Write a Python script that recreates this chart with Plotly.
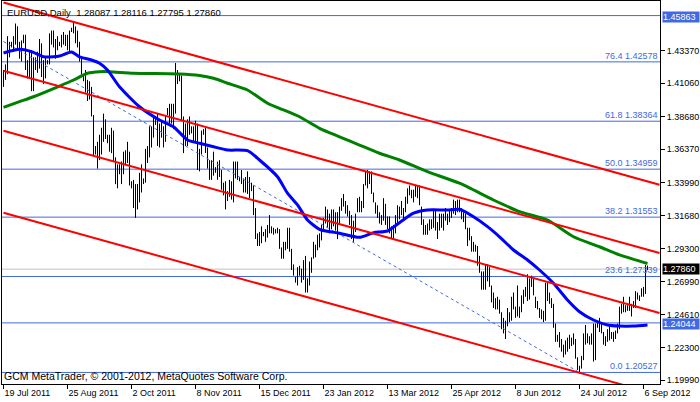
import plotly.graph_objects as go

# ---------------- data ----------------
# bar index 0 = 19 Jul 2011 (broker feed, Sunday bars in 2011), last bar = 10 Sep 2012
high_2011 = [1.4200,1.4240,1.4440,1.4400,
 1.4400,1.4440,1.4530,1.4510,1.4400,1.4410,
 1.4450,1.4450,1.4270,1.4330,1.4340,1.4290,
 1.4290,1.4330,1.4420,1.4390,1.4270,1.4290,
 1.4270,1.4460,1.4480,1.4480,1.4420,1.4440,
 1.4400,1.4450,1.4470,1.4450,1.4450,1.4480,
 1.4500,1.4540,1.4510,1.4480,1.4400,1.4290,
 1.4170,1.4200,1.4130,1.4120,1.4080,1.3880,
 1.3660,1.3690,1.3740,1.3790,1.3890,1.3850,
 1.3740,1.3740,1.3790,1.3770,1.3580,1.3530,
 1.3530,1.3550,1.3620,1.3630,1.3690,1.3620,
 1.3410,1.3420,1.3390,1.3390,1.3470,1.3530,
 1.3430,1.3640,1.3660,1.3800,1.3800,1.3870,
 1.3860,1.3890,1.3820,1.3840,1.3800,1.3880,
 1.3930,1.3960,1.3960,1.3960,1.4250,1.4200,
 1.4170,1.4160,1.3870,1.3820,1.3850,1.3870,
 1.3800,1.3800,1.3840,1.3820,1.3640,1.3770,
 1.3780,1.3790,1.3650,1.3560,1.3560,1.3620,
 1.3510,1.3550,1.3560,1.3490,1.3400,1.3410,
 1.3340,1.3420,1.3410,1.3550,1.3550,1.3550,
 1.3440,1.3490,1.3430,1.3440,1.3480,1.3440,
 1.3400,1.3380,1.3220,1.3040,1.3050,1.3090,
 1.3050,1.3070,1.3100,1.3170,1.3090,1.3080,
 1.3070,1.3080,1.3070,1.2940,1.2980]
low_2011 = [1.4080,1.4130,1.4170,1.4290,
 1.4360,1.4330,1.4380,1.4340,1.4280,1.4260,
 1.4390,1.4200,1.4140,1.4150,1.4050,1.4050,
 1.4200,1.4180,1.4210,1.4150,1.4100,1.4140,
 1.4240,1.4240,1.4380,1.4360,1.4280,1.4340,
 1.4370,1.4360,1.4380,1.4370,1.4340,1.4330,
 1.4470,1.4460,1.4390,1.4360,1.4260,1.4170,
 1.4120,1.4040,1.3980,1.3990,1.3870,1.3590,
 1.3600,1.3500,1.3560,1.3600,1.3690,1.3710,
 1.3680,1.3620,1.3610,1.3550,1.3390,1.3360,
 1.3460,1.3390,1.3460,1.3530,1.3540,1.3380,
 1.3360,1.3220,1.3150,1.3210,1.3260,1.3330,
 1.3390,1.3400,1.3540,1.3580,1.3650,1.3720,
 1.3810,1.3660,1.3650,1.3720,1.3650,1.3690,
 1.3880,1.3820,1.3820,1.3780,1.3890,1.4100,
 1.4120,1.3840,1.3610,1.3660,1.3660,1.3740,
 1.3750,1.3690,1.3680,1.3490,1.3480,1.3600,
 1.3740,1.3610,1.3500,1.3420,1.3420,1.3450,
 1.3470,1.3420,1.3440,1.3350,1.3310,1.3210,
 1.3270,1.3300,1.3280,1.3260,1.3430,1.3420,
 1.3410,1.3390,1.3330,1.3330,1.3320,1.3290,
 1.3340,1.3170,1.3000,1.2950,1.2950,1.2970,
 1.3020,1.2980,1.3010,1.3040,1.3040,1.3030,
 1.3040,1.3040,1.2930,1.2860,1.2860]
high_2012 = [1.2980,1.3080,1.3080,1.2930,1.2820,
 1.2730,
 1.2800,1.2810,1.2790,1.2850,1.2880,
 1.2720,1.2840,1.2870,1.2980,1.2960,
 1.3030,1.3040,1.3100,1.3150,1.3230,
 1.3210,1.3180,1.3210,1.3210,1.3190,
 1.3190,1.3230,1.3290,1.3320,1.3270,
 1.3240,1.3200,1.3170,1.3130,1.3180,
 1.3290,1.3300,1.3270,1.3390,1.3480,
 1.3490,1.3480,1.3480,1.3330,1.3260,
 1.3240,1.3190,1.3170,1.3290,1.3250,
 1.3160,1.3160,1.3090,1.3100,1.3170,
 1.3240,1.3230,1.3270,1.3220,1.3300,
 1.3360,1.3380,1.3350,1.3350,1.3380,
 1.3380,1.3380,1.3230,1.3140,1.3100,
 1.3110,1.3140,1.3140,1.3210,1.3200,
 1.3120,1.3180,1.3180,1.3180,1.3220,
 1.3180,1.3200,1.3220,1.3280,1.3270,
 1.3280,1.3280,1.3220,1.3190,1.3180,
 1.3080,1.3080,1.3020,1.2980,1.2960,
 1.2950,1.2880,1.2770,1.2770,1.2820,
 1.2820,1.2800,1.2670,1.2620,1.2580,
 1.2590,1.2570,1.2480,1.2440,1.2420,
 1.2510,1.2480,1.2590,1.2620,1.2520,
 1.2670,1.2520,1.2600,1.2640,1.2660,
 1.2750,1.2720,1.2740,1.2720,1.2590,
 1.2560,1.2510,1.2500,1.2490,1.2690,
 1.2690,1.2620,1.2580,1.2540,1.2400,
 1.2320,1.2340,1.2290,1.2250,1.2280,
 1.2300,1.2320,1.2300,1.2330,1.2290,
 1.2160,1.2100,1.2170,1.2330,1.2390,
 1.2330,1.2310,1.2330,1.2400,1.2400,
 1.2410,1.2440,1.2400,1.2340,1.2310,
 1.2360,1.2380,1.2340,1.2340,1.2350,
 1.2400,1.2520,1.2540,1.2590,1.2530,
 1.2530,1.2590,1.2540,1.2560,1.2630,
 1.2620,1.2600,1.2650,1.2660,1.2815,
 1.28116]
low_2012 = [1.2920,1.2930,1.2910,1.2780,1.2740,
 1.2690,
 1.2670,1.2740,1.2690,1.2710,1.2620,
 1.2620,1.2670,1.2760,1.2860,1.2870,
 1.2920,1.2940,1.2990,1.3070,1.3110,
 1.3080,1.3040,1.3070,1.3090,1.3060,
 1.3000,1.3100,1.3200,1.3230,1.3180,
 1.3160,1.3100,1.3000,1.2980,1.3050,
 1.3190,1.3190,1.3190,1.3220,1.3380,
 1.3360,1.3390,1.3320,1.3260,1.3180,
 1.3150,1.3110,1.3100,1.3130,1.3100,
 1.3070,1.3040,1.3000,1.3000,1.3040,
 1.3110,1.3140,1.3170,1.3140,1.3190,
 1.3250,1.3310,1.3290,1.3260,1.3300,
 1.3290,1.3240,1.3100,1.3030,1.3030,
 1.3030,1.3060,1.3070,1.3080,1.3060,
 1.3000,1.3060,1.3080,1.3060,1.3130,
 1.3100,1.3120,1.3150,1.3180,1.3170,
 1.3190,1.3190,1.3140,1.3120,1.3070,
 1.2950,1.2990,1.2910,1.2910,1.2910,
 1.2810,1.2760,1.2640,1.2640,1.2640,
 1.2700,1.2660,1.2550,1.2510,1.2500,
 1.2500,1.2470,1.2360,1.2330,1.2290,
 1.2380,1.2410,1.2420,1.2500,1.2440,
 1.2450,1.2440,1.2480,1.2540,1.2590,
 1.2560,1.2570,1.2660,1.2600,1.2510,
 1.2500,1.2440,1.2430,1.2410,1.2420,
 1.2560,1.2540,1.2510,1.2370,1.2270,
 1.2270,1.2230,1.2200,1.2160,1.2180,
 1.2200,1.2220,1.2240,1.2250,1.2150,
 1.2070,1.2045,1.2080,1.2140,1.2250,
 1.2260,1.2250,1.2250,1.2130,1.2140,
 1.2370,1.2340,1.2330,1.2250,1.2240,
 1.2270,1.2280,1.2290,1.2270,1.2290,
 1.2330,1.2360,1.2470,1.2480,1.2480,
 1.2490,1.2490,1.2450,1.2510,1.2510,
 1.2570,1.2560,1.2590,1.2590,1.2610,
 1.27795]

# moving averages (bar index, price)
ma_fast_idx = [0,8,14,20,25,28,34,38,44,48,52,58,68,78,85,92,98,105,112,122,128,137,142,147,152,158,168,178,185,192,198,205,212,222,228,235,242,248,255,262,268,275,282,288,295,302,308,315,322]
ma_fast_val = [1.4321,1.4347,1.4330,1.4294,1.4294,1.4299,1.4328,1.4294,1.4271,1.4248,1.4200,1.4081,1.3939,1.3845,1.3797,1.3703,1.3680,1.3655,1.3632,1.3627,1.3561,1.3442,1.3325,1.3242,1.3135,1.3069,1.3041,1.3012,1.3045,1.3057,1.3116,1.3183,1.3206,1.3206,1.3211,1.3158,1.3088,1.3016,1.2922,1.2851,1.2780,1.2686,1.2567,1.2484,1.2425,1.2390,1.2382,1.2382,1.2390]
ma_slow_idx = [0,8,15,28,35,42,48,53,65,88,98,105,112,122,132,138,148,158,168,178,188,198,212,228,245,258,272,285,298,308,322]
ma_slow_val = [1.3935,1.3975,1.4010,1.4086,1.4129,1.4177,1.4188,1.4188,1.4177,1.4172,1.4161,1.4141,1.4106,1.4058,1.3964,1.3928,1.3868,1.3786,1.3726,1.3667,1.3609,1.3561,1.3478,1.3396,1.3277,1.3194,1.3135,1.3016,1.2945,1.2887,1.2826]

# regression channel (4 parallel lines), endpoints at bar 0 and bar 328
channel_idx = [0, 328]
channel_start = [1.46792, 1.41943, 1.37683, 1.31861]
channel_end = [1.33856, 1.29007, 1.24747, 1.18925]

# fibonacci trend line (dotted) from bar 0 to the low bar
fib_trend_idx = [0, 288]
fib_trend_val = [1.44023, 1.20527]

fib_levels = [76.4, 61.8, 50.0, 38.2, 23.6, 0.0]
fib_prices = [1.42578, 1.38364, 1.34959, 1.31553, 1.27339, 1.20527]
hlines = [1.45863, 1.24044]
bid = 1.27860
ohlc_header = [1.28087, 1.28116, 1.27795, 1.27860]

date_idx = [0, 32, 64, 96, 128, 160, 192, 224, 256, 288, 320]
date_text = ["19 Jul 2011", "25 Aug 2011", "2 Oct 2011", "8 Nov 2011", "15 Dec 2011",
             "23 Jan 2012", "13 Mar 2012", "25 Apr 2012", "8 Jun 2012", "24 Jul 2012", "6 Sep 2012"]
price_ticks = [1.43370, 1.41060, 1.38680, 1.36370, 1.33990, 1.31680, 1.29300,
               1.26990, 1.24610, 1.22300, 1.19990]

y_range = [1.19706, 1.46899]
x_range = [-0.75, 328.25]

# ---------------- figure ----------------
highs = high_2011 + high_2012
lows = low_2011 + low_2012

FONT = "Liberation Sans, Arial, sans-serif"
ROYAL = "#4169E1"

fig = go.Figure()

shapes = []
for p in fib_prices + hlines:
    shapes.append(dict(type="line", xref="paper", x0=0, x1=1, yref="y", y0=p, y1=p,
                       line=dict(color=ROYAL, width=1), layer="below"))
shapes.append(dict(type="line", xref="paper", x0=0, x1=1, yref="y", y0=bid, y1=bid,
                   line=dict(color="#C0C0C0", width=1), layer="below"))

bx, by = [], []
for i, (h, l) in enumerate(zip(highs, lows)):
    bx += [i, i, None]
    by += [l, h, None]
fig.add_trace(go.Scatter(x=bx, y=by, mode="lines", line=dict(color="black", width=1),
                         hoverinfo="skip", showlegend=False))

fig.add_trace(go.Scatter(x=fib_trend_idx, y=fib_trend_val, mode="lines",
                         line=dict(color=ROYAL, width=1, dash="dot"), showlegend=False))

fig.add_trace(go.Scatter(x=ma_slow_idx, y=ma_slow_val, mode="lines",
                         line=dict(color="#008000", width=3, shape="spline", smoothing=0.6),
                         showlegend=False))
fig.add_trace(go.Scatter(x=ma_fast_idx, y=ma_fast_val, mode="lines",
                         line=dict(color="#0000FF", width=3, shape="spline", smoothing=0.6),
                         showlegend=False))

for s, e in zip(channel_start, channel_end):
    fig.add_trace(go.Scatter(x=channel_idx, y=[s, e], mode="lines",
                             line=dict(color="#FF0000", width=2), showlegend=False))

ann = []
for lv, p in zip(fib_levels, fib_prices):
    ann.append(dict(xref="paper", x=1, xanchor="right", xshift=-1, yref="y", y=p,
                    yanchor="bottom", text=f"{lv:.1f} {p:.5f}", showarrow=False,
                    font=dict(family=FONT, size=9, color=ROYAL), borderpad=0))
for p in hlines:
    ann.append(dict(xref="paper", x=1, xanchor="left", xshift=2, yref="y", y=p,
                    yanchor="middle", yshift=-1, text=f"{p:.5f}", showarrow=False,
                    bgcolor=ROYAL, font=dict(family=FONT, size=9, color="white"),
                    borderpad=0, width=36, height=10, align="left", valign="middle"))
ann.append(dict(xref="paper", x=1, xanchor="left", xshift=2, yref="y", y=bid,
                yanchor="middle", text=f"{bid:.5f}", showarrow=False, bgcolor="black",
                font=dict(family=FONT, size=9, color="white"), borderpad=0,
                width=36, height=10, align="left", valign="middle"))
ann.append(dict(xref="paper", x=0, xanchor="left", xshift=3, yref="paper", y=1,
                yanchor="top", yshift=-4,
                text="EURUSD,Daily  " + " ".join(f"{v:.5f}" for v in ohlc_header),
                showarrow=False, font=dict(family=FONT, size=9.5, color="black")))
ann.append(dict(xref="paper", x=0, xanchor="left", xshift=0, yref="paper", y=0,
                yanchor="bottom", yshift=0,
                text="GCM MetaTrader, © 2001-2012, MetaQuotes Software Corp.",
                showarrow=False, font=dict(family=FONT, size=10.5, color="black")))

fig.update_layout(
    width=700, height=402,
    margin=dict(l=2, r=40, t=1, b=18, pad=0),
    paper_bgcolor="white", plot_bgcolor="white",
    shapes=shapes, annotations=ann, showlegend=False,
    xaxis=dict(range=x_range, tickvals=date_idx, ticktext=date_text, ticks="outside",
               ticklen=4, tickcolor="black", showline=True, linecolor="black", mirror=True,
               showgrid=False, zeroline=False, ticklabelposition="outside right",
               tickfont=dict(family=FONT, size=9, color="black"), fixedrange=True),
    yaxis=dict(range=y_range, side="right", tickvals=price_ticks,
               ticktext=[f"{v:.5f}" for v in price_ticks], ticks="outside", ticklen=4,
               tickcolor="black", showline=True, linecolor="black", mirror=True,
               showgrid=False, zeroline=False,
               tickfont=dict(family=FONT, size=9, color="black"), fixedrange=True),
)

fig.write_html("out.html", config={"displayModeBar": False},
               post_script="document.body.style.margin='0';document.body.style.overflow='hidden';")
